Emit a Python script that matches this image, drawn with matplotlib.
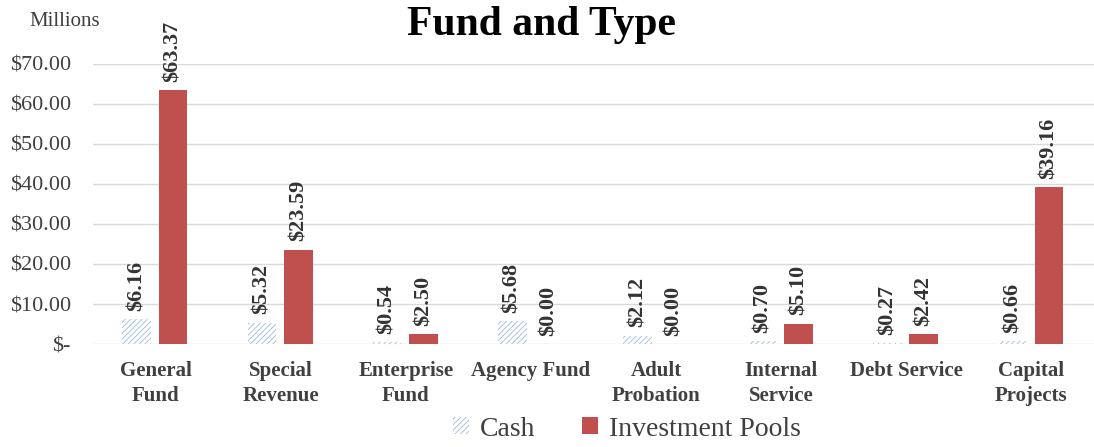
import matplotlib.pyplot as plt
import numpy as np

plt.rcParams['font.family'] = ['Liberation Serif', 'DejaVu Serif']
plt.rcParams['hatch.linewidth'] = 0.6

categories = ['General\nFund', 'Special\nRevenue', 'Enterprise\nFund', 'Agency Fund',
              'Adult\nProbation', 'Internal\nService', 'Debt Service', 'Capital\nProjects']
cash = [6.16, 5.32, 0.54, 5.68, 2.12, 0.70, 0.27, 0.66]
invest = [63.37, 23.59, 2.50, 0.00, 0.00, 5.10, 2.42, 39.16]
yticks = [0, 10, 20, 30, 40, 50, 60, 70]
ytick_labels = ['$-', '$10.00', '$20.00', '$30.00', '$40.00', '$50.00', '$60.00', '$70.00']

txt = '#404040'
fig = plt.figure(figsize=(10.94, 4.47), dpi=100)
ax = fig.add_axes([0.085, 0.2304, 0.915, 0.6265])

x = np.arange(len(categories))
w = 0.23
b1 = ax.bar(x - 0.15, cash, w, color='white', edgecolor='#9DB9DE', hatch='//////',
            linewidth=0, label='Cash', zorder=2)
b2 = ax.bar(x + 0.14, invest, w, color='#C0504D', edgecolor='#C0504D',
            linewidth=0, label='Investment Pools', zorder=2)

for bars, vals in ((b1, cash), (b2, invest)):
    for r, v in zip(bars, vals):
        ax.annotate(f'${v:.2f}', (r.get_x() + r.get_width() / 2, v),
                    xytext=(0, 6), textcoords='offset points', rotation=90,
                    ha='center', va='bottom', fontsize=16, fontweight='bold',
                    color='#333333', annotation_clip=False)

ax.set_xlim(-0.5, len(categories) - 0.5)
ax.set_ylim(0, 70)
ax.set_yticks(yticks)
ax.set_yticklabels(ytick_labels, fontsize=16, color=txt)
ax.set_xticks(x)
ax.set_xticklabels(categories, fontsize=15, fontweight='bold', color=txt, linespacing=1.35)
ax.tick_params(axis='y', length=0, pad=16)
ax.tick_params(axis='x', length=0, pad=12)
ax.grid(axis='y', color='#D9D9D9', linewidth=1, zorder=0)
for s in ax.spines.values():
    s.set_visible(False)

fig.text(0.027, 0.952, 'Millions', fontsize=15, color=txt, ha='left', va='center')
fig.text(0.495, 0.945, 'Fund and Type', fontsize=30, fontweight='bold', ha='center', va='center')

fig.legend(handles=[b1, b2], loc='center', bbox_to_anchor=(0.573, 0.04), ncol=2,
           frameon=False, fontsize=20, handlelength=0.55, handleheight=0.55,
           columnspacing=1.7, handletextpad=0.4, labelcolor=txt)

fig.savefig('out.png', dpi=100)
